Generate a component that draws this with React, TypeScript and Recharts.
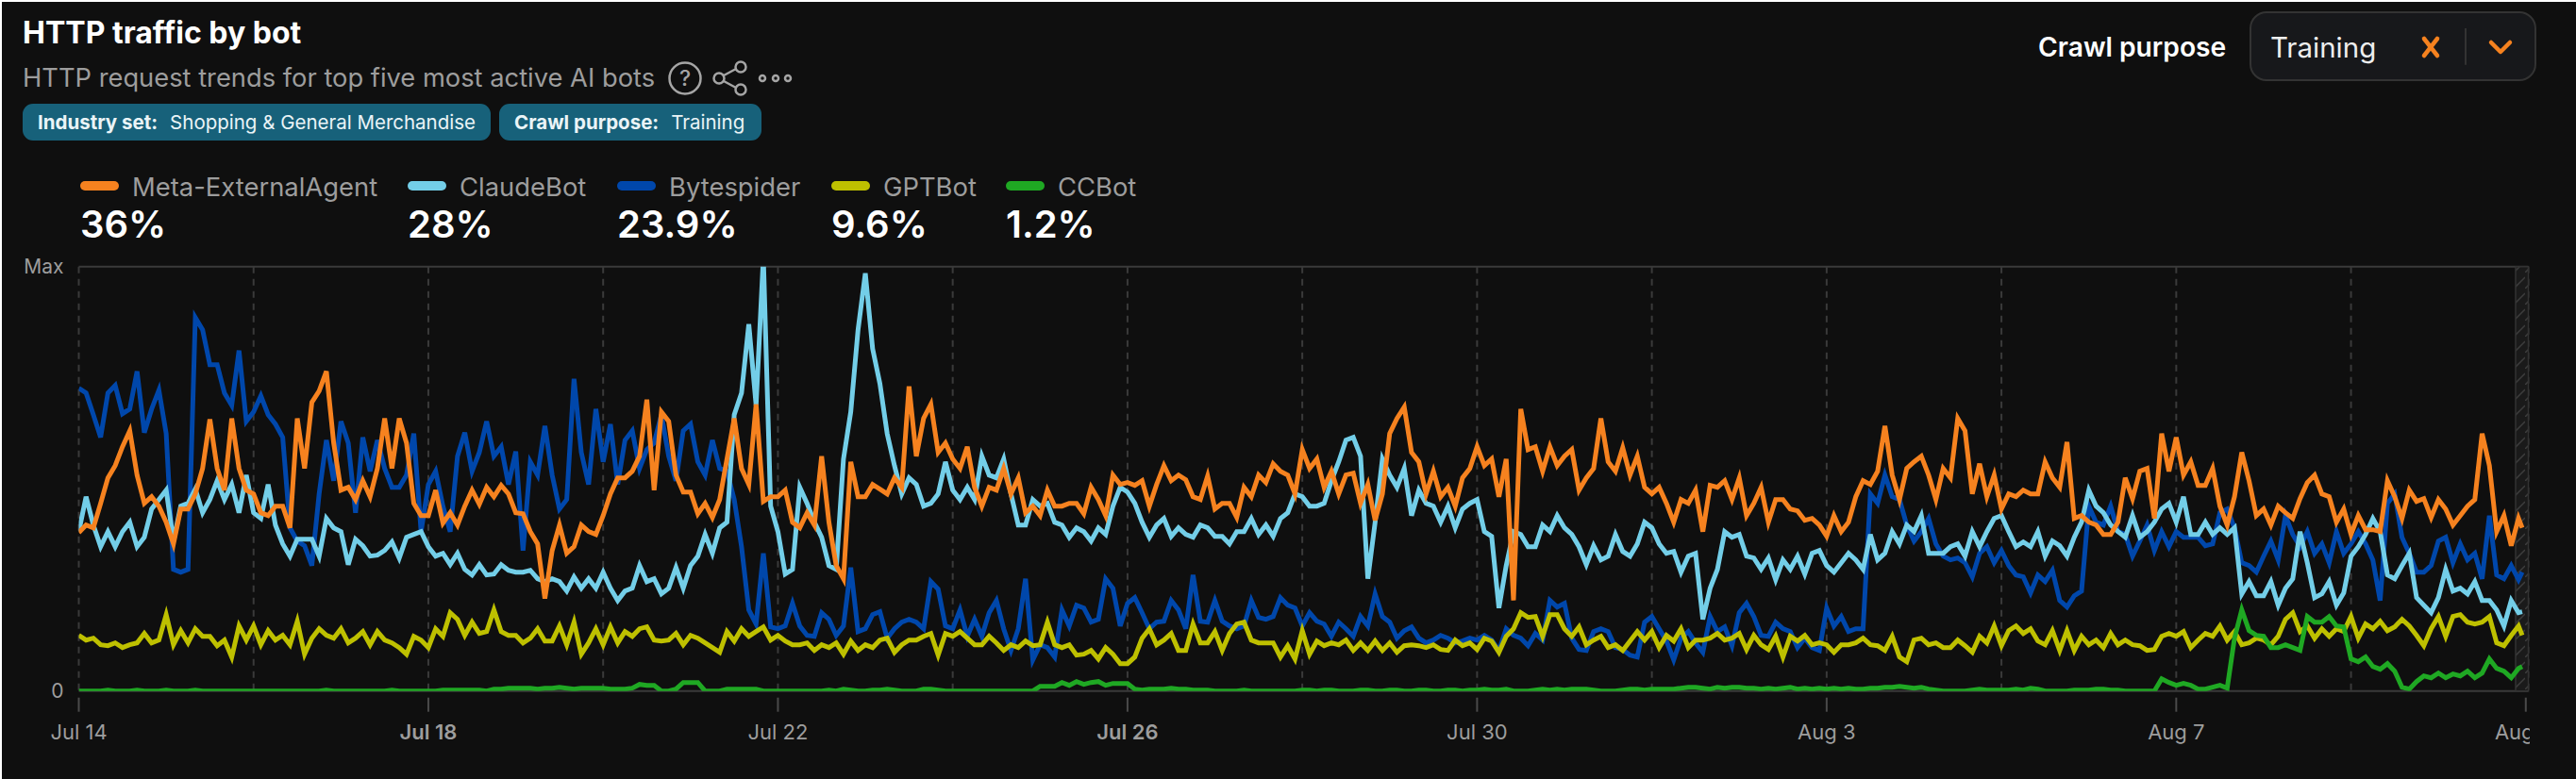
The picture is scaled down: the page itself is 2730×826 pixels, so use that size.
import React from 'react';
import { LineChart, Line, XAxis, YAxis, CartesianGrid, ReferenceArea } from 'recharts';

// Values on a 0..450 scale (450 = "Max"), one reading every 2 hours.
const metaW1 = [168,176,173,199,226,239,259,276,229,199,206,196,179,156,193,193,209,236,288,236,213,289,236,213,209,189,186,196,196,173,289,236,306,318,339,263,213,216,203,223,206,236,289,236,289,263,199,186];
const metaW2 = [186,213,178,189,176,196,213,198,216,206,218,209,189,188,169,156,98,149,176,146,153,176,169,166,186,209,226,226,233,249,309,213,296,286,229,211,211,188,199,184,203,246,289,236,219,304,201,206];
const metaW3 = [206,213,179,173,189,176,249,179,133,119,243,206,206,219,214,209,226,216,323,249,289,304,253,263,246,236,259,216,196,216,213,236,209,226,189,196,186,213,196,196,199,199,188,216,203,186,229,219];
const metaW4 = [221,218,223,196,219,239,223,229,224,206,203,228,193,199,199,184,216,206,229,221,241,233,229,209,256,236,246,216,233,209,229,231,199,219,181,209,273,289,301,253,243,209,233,206,216,196,226,236];
const metaW5 = [259,239,246,206,246,96,299,256,259,233,259,239,249,256,213,226,236,289,243,233,258,229,249,216,209,216,199,179,203,199,213,169,218,216,223,203,226,186,199,216,179,203,203,193,191,181,183,176];
const metaW6 = [164,186,169,179,206,223,219,233,281,229,203,236,243,249,229,203,236,226,289,276,209,241,206,229,193,209,206,213,209,209,243,226,216,264,183,186,179,176,166,166,179,226,204,233,236,183,273,233];
const metaW7 = [269,229,243,218,218,236,196,176,206,253,223,186,193,176,196,189,183,204,221,229,209,206,179,193,166,186,171,171,169,223,206,183,213,201,204,184,203,193,176,186,196,203,273,239,169,186,154,183,173];

const claudeW1 = [169,206,176,153,169,153,169,179,153,163,193,203,213,159,196,199,214,189,203,223,203,219,189,229,189,183,219,176,156,143,161,161,161,143,183,173,169,134,161,154,143,144,149,158,141,163,166,169];
const claudeW2 = [153,143,146,134,146,129,123,134,123,124,134,128,126,126,128,119,116,119,116,106,121,109,119,109,126,109,96,106,109,133,116,119,103,109,131,109,133,143,166,146,173,179,293,316,389,303,460,196];
const claudeW3 = [169,124,129,216,199,179,163,133,129,246,296,383,443,363,326,273,239,209,226,219,196,199,209,243,213,203,216,203,249,229,226,246,209,176,176,203,196,199,179,176,163,173,169,159,173,166,196,216];
const claudeW4 = [211,199,179,163,176,183,164,173,166,163,176,173,164,164,156,169,169,183,166,176,164,183,189,209,206,196,196,199,223,243,266,269,249,119,179,246,229,216,236,186,213,199,196,179,196,173,193,199];
const claudeW5 = [203,169,164,88,133,169,166,153,153,176,169,186,173,166,153,134,154,139,143,166,148,143,156,179,173,156,146,148,126,143,146,76,109,129,169,163,166,143,141,129,141,118,139,129,143,124,146,149];
const claudeW6 = [133,126,136,146,139,129,166,139,146,169,156,176,169,186,146,146,146,153,156,143,169,153,169,183,186,169,153,158,153,169,143,159,154,143,163,179,213,196,189,176,169,163,186,163,169,179,193,199];
const claudeW7 = [179,206,166,166,179,166,173,166,173,103,116,101,101,116,91,109,119,169,136,99,103,116,91,104,143,153,166,183,169,123,119,133,146,99,91,83,99,129,106,109,103,116,96,96,86,69,96,83,84];

const byteW1 = [321,316,293,269,316,324,294,299,339,274,299,319,273,129,126,129,396,383,346,346,316,303,361,286,296,313,293,283,269,173,159,154,133,209,266,223,286,263,189,269,233,266,236,216,216,229,273,169];
const byteW2 = [219,233,196,169,249,274,233,253,286,249,259,219,254,149,243,229,281,229,193,203,331,253,219,299,243,283,219,266,276,236,256,263,293,249,223,276,283,243,229,266,236,233,203,153,86,71,146,68];
const byteW3 = [66,69,93,69,59,58,83,76,59,69,131,63,66,81,84,56,66,73,76,73,66,116,108,69,66,86,58,76,58,83,96,66,43,66,119,33,49,46,36,86,69,91,88,73,76,119,109,69];
const byteW4 = [93,99,83,66,73,74,96,86,66,123,74,73,96,74,69,66,69,96,78,76,79,99,91,88,69,83,74,71,58,73,66,58,79,69,103,79,73,56,64,68,56,51,54,59,56,51,53,56];
const byteW5 = [54,59,54,43,66,59,56,48,61,54,96,89,93,56,44,43,63,66,63,46,44,38,36,73,79,66,53,33,56,63,51,41,79,63,68,48,83,93,79,59,58,73,66,63,46,56,46,43];
const byteW6 = [88,69,79,63,66,66,209,199,229,206,203,176,159,169,183,156,143,139,141,136,121,146,153,136,149,133,123,121,104,123,116,128,96,89,101,106,196,179,176,196,169,166,143,159,176,149,169,153];
const byteW7 = [169,163,163,163,154,156,189,193,173,136,133,126,143,159,139,186,166,153,169,146,156,136,169,146,156,169,156,139,96,199,209,163,146,126,126,133,159,163,136,156,139,146,119,186,123,119,133,118,126];

const gptW1 = [59,54,56,49,48,51,46,49,51,61,51,54,81,49,64,51,66,58,58,48,54,36,69,54,69,49,64,54,59,49,74,39,56,66,59,56,66,51,56,63,49,63,54,51,46,39,58,54];
const gptW2 = [46,66,58,83,76,59,73,61,63,86,63,59,59,51,56,66,53,53,69,49,73,39,51,66,49,68,51,63,58,66,68,54,53,54,61,49,59,56,51,46,41,63,53,66,58,63,68,54];
const gptW3 = [59,53,49,49,51,43,49,46,51,39,53,43,49,46,54,56,41,49,54,54,58,61,38,61,58,63,56,49,49,58,51,43,49,46,53,48,49,73,49,46,49,38,39,43,34,46,39,29];
const gptW4 = [29,36,56,66,49,54,61,43,43,71,51,51,63,43,61,71,73,54,51,51,51,36,48,34,64,39,53,48,51,49,54,43,51,43,53,43,51,41,48,49,48,46,49,44,43,54,48,51];
const gptW5 = [44,56,53,41,58,66,83,78,79,58,81,81,66,58,68,49,54,58,46,49,43,53,63,54,63,46,59,53,66,46,54,54,56,61,54,56,61,44,59,49,44,58,36,58,53,59,49,51];
const gptW6 = [49,41,49,49,51,56,49,48,43,58,36,31,54,56,49,51,46,46,54,48,41,58,51,69,48,64,69,61,66,53,49,64,43,64,43,58,49,54,46,61,49,54,49,48,43,44,58,61];
const gptW7 = [58,63,46,54,61,58,69,54,63,49,51,56,54,49,58,76,83,63,69,56,66,58,66,63,79,56,71,66,74,64,68,76,69,59,48,66,79,58,79,81,73,71,73,79,51,48,59,69,59];

const ccW1 = [0,0,0,0,1,0,0,0,1,0,0,0,1,0,0,0,1,0,0,0,0,0,0,0,0,0,0,0,0,0,0,0,0,0,1,0,0,0,0,0,0,0,0,1,0,0,0,0];
const ccW2 = [0,0,1,1,1,1,1,1,0,2,2,3,3,3,3,2,3,3,4,3,2,3,3,3,3,2,2,2,3,7,6,6,0,0,2,9,9,9,0,0,0,2,2,2,2,2,0,0];
const ccW3 = [0,0,0,0,0,0,0,1,0,2,1,0,0,1,1,2,1,0,0,0,2,2,1,0,0,0,0,0,0,0,0,0,0,0,0,0,5,5,5,9,6,10,7,9,10,6,8,8];
const ccW4 = [8,2,1,2,2,2,3,2,2,1,1,1,0,0,0,0,1,0,0,0,0,0,0,0,1,1,0,1,1,0,0,0,1,1,0,0,1,1,0,0,1,1,0,0,1,1,0,1];
const ccW5 = [1,2,1,1,2,0,0,0,1,2,1,2,1,2,2,2,1,0,0,0,1,2,2,1,2,2,2,2,3,4,4,3,2,4,3,4,4,3,3,2,3,2,3,4,2,3,2,3];
const ccW6 = [2,3,2,3,2,2,3,3,4,4,5,4,3,4,2,1,0,0,0,0,1,2,1,1,1,1,2,1,3,2,0,0,0,0,1,1,1,2,2,1,1,0,0,0,0,0,13,9];
const ccW7 = [6,8,6,2,2,4,6,3,56,86,64,59,58,46,46,49,46,43,79,73,73,79,69,68,34,31,36,26,23,29,21,4,2,10,16,14,19,14,18,16,21,14,19,34,24,21,14,24,26];

const meta = [...metaW1, ...metaW2, ...metaW3, ...metaW4, ...metaW5, ...metaW6, ...metaW7];
const claude = [...claudeW1, ...claudeW2, ...claudeW3, ...claudeW4, ...claudeW5, ...claudeW6, ...claudeW7];
const byte = [...byteW1, ...byteW2, ...byteW3, ...byteW4, ...byteW5, ...byteW6, ...byteW7];
const gpt = [...gptW1, ...gptW2, ...gptW3, ...gptW4, ...gptW5, ...gptW6, ...gptW7];
const cc = [...ccW1, ...ccW2, ...ccW3, ...ccW4, ...ccW5, ...ccW6, ...ccW7];

const tickLabels = ['Jul 14', 'Jul 18', 'Jul 22', 'Jul 26', 'Jul 30', 'Aug 3', 'Aug 7', 'Aug 11'];
const boldLabels = ['Jul 18', 'Jul 26'];
const botNames = ['Meta-ExternalAgent', 'ClaudeBot', 'Bytespider', 'GPTBot', 'CCBot'];
const botShares = ['36%', '28%', '23.9%', '9.6%', '1.2%'];
const botColors = ['#F6821F', '#73CEE8', '#0047AB', '#BEC000', '#1FA823'];

const rows = meta.map((_, i) => ({
  hour: i < 336 ? i * 2 : 671,
  meta: meta[i], claude: claude[i], byte: byte[i], gpt: gpt[i], cc: cc[i],
}));
const gridHours = Array.from({ length: 15 }, (_, i) => i * 48);

const FONT = 'Inter, sans-serif';
const GREY = '#9d9d9d';
const LINE_W = 5;
const legendX = [85, 432, 654, 881, 1066];

const XTick = (props: any) => {
  const { x, y, payload } = props;
  const idx = payload.value / 96;
  if (!Number.isInteger(idx)) return null;
  const label = tickLabels[idx];
  return (
    <g>
      <line x1={x} x2={x} y1={y - 1} y2={y + 14} stroke="#4a4a4a" strokeWidth={2} />
      <text x={x} y={y + 43} textAnchor="middle" fontFamily={FONT} fontSize={22}
        fontWeight={boldLabels.includes(label) ? 600 : 400} fill={GREY}>{label}</text>
    </g>
  );
};

const Chip = ({ left, width, k, v }: any) => (
  <div style={{ position: 'absolute', left, top: 110, width, height: 39, background: '#17617A', borderRadius: 11,
    color: '#eaf4f7', fontSize: 20.5, lineHeight: '39px', whiteSpace: 'nowrap', paddingLeft: 16, boxSizing: 'border-box' }}>
    <span style={{ fontWeight: 700 }}>{k}</span><span style={{ marginLeft: 13 }}>{v}</span>
  </div>
);

export default function App() {
  return (
    <div style={{ position: 'fixed', left: 0, top: 0, width: 2730, height: 826, background: '#fff', overflow: 'hidden', fontFamily: FONT }}>
      <div style={{ position: 'absolute', left: 2, top: 2, width: 2728, height: 824, background: '#0F0F0F' }} />
      <div style={{ position: 'absolute', left: 24, top: 16, fontSize: 32, lineHeight: '38px', fontWeight: 700, color: '#fff', whiteSpace: 'nowrap' }}>HTTP traffic by bot</div>
      <div style={{ position: 'absolute', left: 24, top: 67, fontSize: 27.3, lineHeight: '32px', color: GREY, whiteSpace: 'nowrap' }}>HTTP request trends for top five most active AI bots</div>
      <svg style={{ position: 'absolute', left: 700, top: 60 }} width={170} height={50} fill="none" stroke="#a5a5a5" strokeWidth={2.5}>
        <circle cx={26} cy={23} r={16.5} />
        <text x={26} y={31} textAnchor="middle" fontFamily={FONT} fontSize={23} fontWeight={500} fill="#a5a5a5" stroke="none">?</text>
        <circle cx={62} cy={23} r={5.5} /><circle cx={85} cy={11} r={5.5} /><circle cx={85} cy={35} r={5.5} />
        <line x1={67} y1={20} x2={80} y2={13} /><line x1={67} y1={26} x2={80} y2={33} />
        <circle cx={108} cy={23} r={3} /><circle cx={122} cy={23} r={3} /><circle cx={135} cy={23} r={3} />
      </svg>
      <Chip left={24} width={496} k="Industry set:" v="Shopping & General Merchandise" />
      <Chip left={529} width={278} k="Crawl purpose:" v="Training" />

      {botNames.map((name, i) => (
        <React.Fragment key={name}>
          <div style={{ position: 'absolute', left: legendX[i], top: 192, width: 41, height: 10, borderRadius: 5, background: botColors[i] }} />
          <div style={{ position: 'absolute', left: legendX[i] + 55, top: 181, fontSize: 27.4, lineHeight: '34px', color: GREY, whiteSpace: 'nowrap' }}>{name}</div>
          <div style={{ position: 'absolute', left: legendX[i], top: 214, fontSize: 40, lineHeight: '48px', fontWeight: 600, color: '#fff', whiteSpace: 'nowrap' }}>{botShares[i]}</div>
        </React.Fragment>
      ))}

      <div style={{ position: 'absolute', left: 2160, top: 33, fontSize: 28.2, lineHeight: '34px', fontWeight: 600, color: '#fff', whiteSpace: 'nowrap' }}>Crawl purpose</div>
      <div style={{ position: 'absolute', left: 2384, top: 12, width: 304, height: 74, boxSizing: 'border-box', border: '2px solid #333', borderRadius: 18, background: '#17181B' }} />
      <div style={{ position: 'absolute', left: 2406, top: 31, fontSize: 29.5, lineHeight: '38px', color: '#eee' }}>Training</div>
      <svg style={{ position: 'absolute', left: 2560, top: 30 }} width={110} height={40} fill="none" stroke="#F6821F" strokeWidth={4.5} strokeLinecap="round" strokeLinejoin="round">
        <line x1={9} y1={11} x2={23} y2={29} /><line x1={23} y1={11} x2={9} y2={29} />
        <line x1={53} y1={0} x2={53} y2={38} stroke="#333" strokeWidth={2} />
        <polyline points="80,15 90,25 100,15" />
      </svg>

      <div style={{ position: 'absolute', left: 0, top: 0 }}>
        <LineChart width={2681} height={826} data={rows} margin={{ top: 282.7, right: 1.5, bottom: 0, left: 0 }}>
          <defs>
            <pattern id="hatch" width={12} height={17} patternUnits="userSpaceOnUse">
              <rect width={12} height={17} fill="#1A1A1A" />
              <line x1={0} y1={17} x2={12} y2={5} stroke="#3d3d3d" strokeWidth={1.5} />
            </pattern>
          </defs>
          <CartesianGrid horizontal={false} stroke="#3a3a3a" strokeWidth={2} strokeDasharray="7 6" />
          <CartesianGrid vertical={false} stroke="#3a3a3a" strokeWidth={2} />
          <ReferenceArea x1={669.2} x2={672.7} fill="url(#hatch)" fillOpacity={1} stroke="#333" strokeWidth={1.5} />
          <XAxis dataKey="hour" type="number" domain={[0, 672.7]} ticks={gridHours} interval={0} height={93.3}
            tick={<XTick />} tickLine={false} axisLine={false} allowDataOverflow />
          <YAxis type="number" domain={[0, 450]} ticks={[0, 450]} interval={0} width={83.5} tickSize={0} tickMargin={16}
            tickFormatter={(v: number) => (v === 450 ? 'Max' : '0')} axisLine={false} tickLine={false} allowDataOverflow
            tick={{ fill: GREY, fontSize: 21, fontFamily: FONT }} />
          <Line dataKey="byte" name={botNames[2]} stroke={botColors[2]} strokeWidth={LINE_W} dot={false} type="linear" isAnimationActive={false} />
          <Line dataKey="gpt" name={botNames[3]} stroke={botColors[3]} strokeWidth={LINE_W} dot={false} type="linear" isAnimationActive={false} />
          <Line dataKey="claude" name={botNames[1]} stroke={botColors[1]} strokeWidth={LINE_W} dot={false} type="linear" isAnimationActive={false} />
          <Line dataKey="meta" name={botNames[0]} stroke={botColors[0]} strokeWidth={LINE_W} dot={false} type="linear" isAnimationActive={false} />
          <Line dataKey="cc" name={botNames[4]} stroke={botColors[4]} strokeWidth={LINE_W} dot={false} type="linear" isAnimationActive={false} />
        </LineChart>
      </div>
    </div>
  );
}
